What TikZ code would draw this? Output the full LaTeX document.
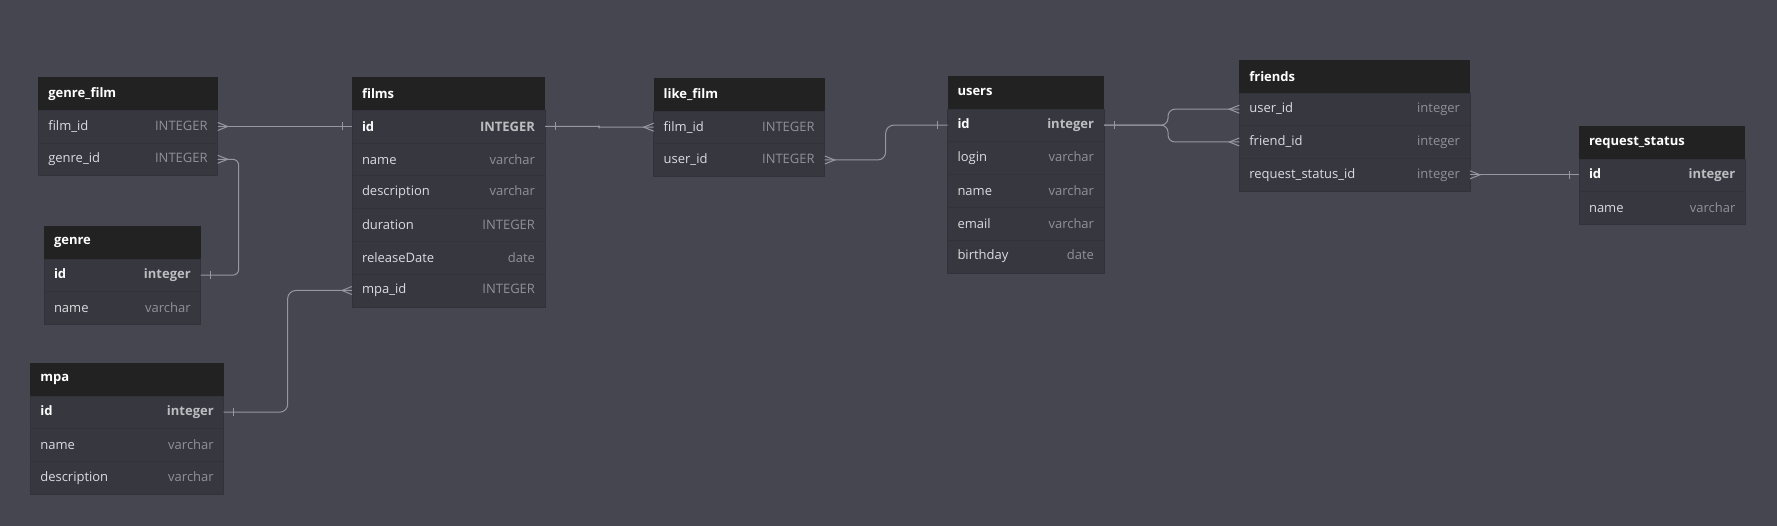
\documentclass[tikz,border=0pt]{standalone}
\usepackage{xcolor}
\usepackage{fontspec}
\setmainfont{Open Sans}
\usetikzlibrary{positioning}

\definecolor{bgcol}{RGB}{69,70,80}
\definecolor{headcol}{RGB}{34,34,35}
\definecolor{rowcol}{RGB}{54,55,63}
\definecolor{rowline}{RGB}{50,51,58}
\definecolor{namecol}{RGB}{220,220,224}
\definecolor{typecol}{RGB}{145,145,151}
\definecolor{conncol}{RGB}{150,151,160}
\newcommand{\coltype}[1]{\textcolor{typecol}{#1}}
\newcommand{\keytype}[1]{\textcolor{typecol!60!white}{#1}}

\begin{document}
\begin{tikzpicture}[x=1pt,y=-1pt,
  tab/.style={text width=#1},
  head/.style={fill=headcol, text=white, font=\fontsize{13}{15}\selectfont\bfseries,
    minimum height=32.8pt, inner xsep=10pt, inner ysep=0pt, outer sep=0pt, anchor=north west},
  row/.style={fill=rowcol, draw=rowline, line width=0.5pt, text=namecol,
    font=\fontsize{13}{15}\selectfont, minimum height=32.8pt, inner xsep=10pt, inner ysep=0pt, outer sep=0pt},
  conn/.style={draw=conncol, line width=1pt},
  many/.pic={\draw[conn] (0,-4) -- (10,0) -- (0,4);},
  one/.pic={\draw[conn] (10,-4) -- (10,4);}]

  \fill[bgcol] (0,0) rectangle (1777,526);

  \node[head, tab=159.4pt] (gf-head) at (38.3,77.3) {genre\_film};
  \node[row, tab=159.4pt, below=0pt of gf-head] (gf-film) {film\_id\hfill\coltype{INTEGER}};
  \node[row, tab=159.4pt, below=0pt of gf-film] (gf-genre) {genre\_id\hfill\coltype{INTEGER}};

  \node[head, tab=173pt] (films-head) at (352,77.3) {films};
  \node[row, tab=173pt, below=0pt of films-head] (films-id) {\bfseries\color{white}id\hfill\keytype{INTEGER}};
  \node[row, tab=173pt, below=0pt of films-id] (films-name) {name\hfill\coltype{varchar}};
  \node[row, tab=173pt, below=0pt of films-name] (films-desc) {description\hfill\coltype{varchar}};
  \node[row, tab=173pt, below=0pt of films-desc] (films-dur) {duration\hfill\coltype{INTEGER}};
  \node[row, tab=173pt, below=0pt of films-dur] (films-date) {releaseDate\hfill\coltype{date}};
  \node[row, tab=173pt, below=0pt of films-date] (films-mpa) {mpa\_id\hfill\coltype{INTEGER}};

  \node[head, tab=136.7pt] (genre-head) at (44,226) {genre};
  \node[row, tab=136.7pt, below=0pt of genre-head] (genre-id) {\bfseries\color{white}id\hfill\keytype{integer}};
  \node[row, tab=136.7pt, below=0pt of genre-id] (genre-name) {name\hfill\coltype{varchar}};

  \node[head, tab=173.4pt] (mpa-head) at (30.3,363) {mpa};
  \node[row, tab=173.4pt, below=0pt of mpa-head] (mpa-id) {\bfseries\color{white}id\hfill\keytype{integer}};
  \node[row, tab=173.4pt, below=0pt of mpa-id] (mpa-name) {name\hfill\coltype{varchar}};
  \node[row, tab=173.4pt, below=0pt of mpa-name] (mpa-desc) {description\hfill\coltype{varchar}};

  \node[head, tab=151pt] (like-head) at (653.7,78) {like\_film};
  \node[row, tab=151pt, below=0pt of like-head] (like-film) {film\_id\hfill\coltype{INTEGER}};
  \node[row, tab=151pt, below=0pt of like-film] (like-user) {user\_id\hfill\coltype{INTEGER}};

  \node[head, tab=136.5pt] (users-head) at (947.5,76) {users};
  \node[row, tab=136.5pt, below=0pt of users-head] (users-id) {\bfseries\color{white}id\hfill\keytype{integer}};
  \node[row, tab=136.5pt, below=0pt of users-id] (users-login) {login\hfill\coltype{varchar}};
  \node[row, tab=136.5pt, below=0pt of users-login] (users-name) {name\hfill\coltype{varchar}};
  \node[row, tab=136.5pt, below=0pt of users-name] (users-email) {email\hfill\coltype{varchar}};
  \node[row, tab=136.5pt, below=0pt of users-email] (users-bday) {birthday\hfill\coltype{date}};

  \node[head, tab=210.7pt] (friends-head) at (1239.3,60) {friends};
  \node[row, tab=210.7pt, below=0pt of friends-head] (friends-user) {user\_id\hfill\coltype{integer}};
  \node[row, tab=210.7pt, below=0pt of friends-user] (friends-friend) {friend\_id\hfill\coltype{integer}};
  \node[row, tab=210.7pt, below=0pt of friends-friend] (friends-rs) {request\_status\_id\hfill\coltype{integer}};

  \node[head, tab=146.3pt] (rs-head) at (1579,126) {request\_status};
  \node[row, tab=146.3pt, below=0pt of rs-head] (rs-id) {\bfseries\color{white}id\hfill\keytype{integer}};
  \node[row, tab=146.3pt, below=0pt of rs-id] (rs-name) {name\hfill\coltype{varchar}};

  \draw[conn] (gf-film.east) -- (films-id.west);
  \draw[conn, rounded corners=6pt] (gf-genre.east) -- ++(21,0) |- (genre-id.east);
  \draw[conn, rounded corners=8pt] (mpa-id.east) -- ++(64,0) |- (films-mpa.west);
  \draw[conn, rounded corners=1pt] (films-id.east) -- ++(54,0) |- (like-film.west);
  \draw[conn, rounded corners=8pt] (like-user.east) -- ++(61,0) |- (users-id.west);
  \draw[conn, rounded corners=7pt] (users-id.east) -- ++(64,0) |- (friends-user.west);
  \draw[conn, rounded corners=7pt] (users-id.east) -- ++(64,0) |- (friends-friend.west);
  \draw[conn] (friends-rs.east) -- (friends-rs.east -| rs-id.west);

  \pic at (gf-film.east) {many};
  \pic at (gf-genre.east) {many};
  \pic[xscale=-1] at (films-mpa.west) {many};
  \pic[xscale=-1] at (like-film.west) {many};
  \pic at (like-user.east) {many};
  \pic[xscale=-1] at (friends-user.west) {many};
  \pic[xscale=-1] at (friends-friend.west) {many};
  \pic at (friends-rs.east) {many};

  \pic[xscale=-1] at (films-id.west) {one};
  \pic at (films-id.east) {one};
  \pic at (genre-id.east) {one};
  \pic at (mpa-id.east) {one};
  \pic[xscale=-1] at (users-id.west) {one};
  \pic at (users-id.east) {one};
  \pic[xscale=-1] at (rs-id.west) {one};
\end{tikzpicture}
\end{document}
